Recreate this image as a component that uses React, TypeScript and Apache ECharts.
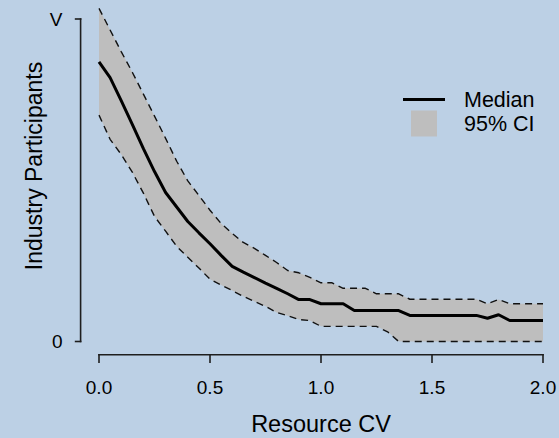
import React, { useEffect, useRef } from 'react';
import * as echarts from 'echarts';

const xValues = [
  0, 0.05, 0.1, 0.15, 0.2, 0.25, 0.3, 0.35, 0.4, 0.45, 0.5, 0.55, 0.6, 0.65, 0.7, 0.75, 0.8, 0.85, 0.9, 0.95,
  1.0, 1.05, 1.1, 1.15, 1.2, 1.25, 1.3, 1.35, 1.4, 1.45, 1.5, 1.55, 1.6, 1.65, 1.7, 1.75, 1.8, 1.85, 1.9, 1.95, 2.0,
];

// values expressed as a fraction of V
const medianValues = [
  0.867, 0.818, 0.747, 0.673, 0.598, 0.527, 0.462, 0.417, 0.372, 0.337, 0.303, 0.267, 0.233, 0.215, 0.198, 0.181,
  0.165, 0.148, 0.130, 0.130, 0.117, 0.117, 0.117, 0.096, 0.096, 0.096, 0.096, 0.096, 0.081, 0.081, 0.081, 0.081,
  0.081, 0.081, 0.081, 0.072, 0.083, 0.065, 0.065, 0.065, 0.065,
];

const lowerValues = [
  0.702, 0.627, 0.580, 0.525, 0.460, 0.388, 0.342, 0.295, 0.261, 0.228, 0.193, 0.175, 0.158, 0.140, 0.124, 0.109,
  0.090, 0.080, 0.068, 0.065, 0.047, 0.047, 0.047, 0.047, 0.047, 0.047, 0.030, 0, 0, 0, 0, 0,
  0, 0, 0, 0, 0, 0, 0, 0, 0,
];

const upperValues = [
  1.033, 0.966, 0.899, 0.835, 0.767, 0.699, 0.630, 0.559, 0.498, 0.453, 0.407, 0.366, 0.335, 0.307, 0.289, 0.267,
  0.245, 0.220, 0.213, 0.199, 0.182, 0.182, 0.165, 0.165, 0.165, 0.148, 0.148, 0.148, 0.131, 0.131, 0.131, 0.131,
  0.131, 0.131, 0.131, 0.117, 0.130, 0.117, 0.117, 0.117, 0.117,
];

const xTickValues = [0, 0.5, 1.0, 1.5, 2.0];
const yTickValues = [0, 1];
const yTickLabels: Record<string, string> = { '0': '0', '1': 'V' };

const FONT = '"Liberation Sans", Arial, Helvetica, sans-serif';
const BG = '#bcd0e5';
const BAND = '#bebebe';
const AXIS_COLOR = '#1e1e1e';
const AXIS_W = 1.6;

const hiddenAxis = (gridIndex: number, min: number, max: number) => ({
  type: 'value',
  gridIndex,
  min,
  max,
  show: false,
  axisLine: { show: false },
  axisTick: { show: false },
  axisLabel: { show: false },
  splitLine: { show: false },
});

export default function App() {
  const ref = useRef<HTMLDivElement>(null);

  useEffect(() => {
    if (!ref.current) return;
    const chart = echarts.init(ref.current, undefined, { renderer: 'svg' });

    const pairs = (vals: number[]) => xValues.map((x, i) => [x, vals[i]]);

    const option: any = {
      animation: false,
      backgroundColor: BG,
      textStyle: { fontFamily: FONT, color: '#000' },
      grid: [
        // data area
        { left: 99, right: 16, top: 19, bottom: 96.5, containLabel: false, outerBoundsMode: 'none' },
        // detached x axis labels (R style)
        { left: 99, right: 16, top: 19, bottom: 84, containLabel: false, outerBoundsMode: 'none' },
        // detached y axis labels (R style)
        { left: 80.5, right: 16, top: 19, bottom: 96.5, containLabel: false, outerBoundsMode: 'none' },
      ],
      xAxis: [
        hiddenAxis(0, 0, 2),
        {
          type: 'value',
          gridIndex: 1,
          min: 0,
          max: 2,
          interval: 0.5,
          axisLine: { show: false },
          axisTick: { show: false },
          splitLine: { show: false },
          axisLabel: {
            color: '#000',
            fontSize: 19,
            fontFamily: FONT,
            margin: 24,
            formatter: (v: number) => (xTickValues.includes(v) ? v.toFixed(1) : ''),
          },
          name: 'Resource CV',
          nameLocation: 'middle',
          nameGap: 58,
          nameTextStyle: { color: '#000', fontSize: 23.5, fontFamily: FONT },
        },
        hiddenAxis(2, 1, 2),
      ],
      yAxis: [
        hiddenAxis(0, 0, 1),
        hiddenAxis(1, 1, 2),
        {
          type: 'value',
          gridIndex: 2,
          min: 0,
          max: 1,
          interval: 1,
          axisLine: { show: false },
          axisTick: { show: false },
          splitLine: { show: false },
          axisLabel: {
            color: '#000',
            fontSize: 19,
            fontFamily: FONT,
            margin: 18,
            formatter: (v: number) => yTickLabels[String(v)] ?? '',
          },
        },
      ],
      legend: {
        show: true,
        orient: 'vertical',
        left: 403,
        top: 88.5,
        padding: 0,
        itemWidth: 42,
        itemHeight: 26,
        itemGap: 0,
        selectedMode: false,
        textStyle: { color: '#000', fontSize: 21.5, fontFamily: FONT, padding: [0, 0, 0, 14] },
        data: [
          { name: 'Median', icon: 'path://M0,0H42V3H0Z', itemStyle: { color: '#000', borderWidth: 0 } },
          { name: '95% CI', icon: 'path://M0,0H10V10H0Z', itemStyle: { color: BAND, borderWidth: 0 } },
        ],
      },
      graphic: [
        {
          type: 'text',
          x: 33.5,
          y: 166,
          rotation: Math.PI / 2,
          style: {
            text: 'Industry Participants',
            fontSize: 23,
            fontFamily: FONT,
            fill: '#000',
            align: 'center',
            verticalAlign: 'middle',
          },
        },
      ],
      series: [
        {
          // R-style detached axis lines and ticks, placed through the data scales
          name: 'axes',
          type: 'custom',
          xAxisIndex: 0,
          yAxisIndex: 0,
          data: [[0, 0]],
          encode: { x: 0, y: 1 },
          clip: false,
          silent: true,
          z: 4,
          renderItem: (_params: any, api: any) => {
            const o = api.coord([0, 0]);
            const e = api.coord([2, 0]);
            const t = api.coord([0, 1]);
            const axY = o[1] + 12.4;
            const axX = o[0] - 19.2;
            const fill = AXIS_COLOR;
            const children: any[] = [
              {
                type: 'rect',
                shape: { x: o[0] - AXIS_W / 2, y: axY, width: e[0] - o[0] + AXIS_W, height: AXIS_W },
                style: { fill },
              },
              {
                type: 'rect',
                shape: { x: axX, y: t[1] - AXIS_W / 2, width: AXIS_W, height: o[1] - t[1] + AXIS_W },
                style: { fill },
              },
            ];
            xTickValues.forEach((v) => {
              const p = api.coord([v, 0]);
              children.push({
                type: 'rect',
                shape: { x: p[0] - AXIS_W / 2, y: axY, width: AXIS_W, height: 9 },
                style: { fill },
              });
            });
            yTickValues.forEach((v) => {
              const p = api.coord([0, v]);
              children.push({
                type: 'rect',
                shape: { x: axX - 5, y: p[1] - AXIS_W / 2, width: 5 + AXIS_W, height: AXIS_W },
                style: { fill },
              });
            });
            return { type: 'group', children };
          },
        },
        {
          name: '95% CI',
          type: 'custom',
          xAxisIndex: 0,
          yAxisIndex: 0,
          data: [[0, 0]],
          encode: { x: 0, y: 1 },
          clip: false,
          silent: true,
          itemStyle: { color: BAND },
          z: 1,
          renderItem: (_params: any, api: any) => {
            const pts: number[][] = [];
            for (let i = 0; i < xValues.length; i++) pts.push(api.coord([xValues[i], upperValues[i]]));
            for (let i = xValues.length - 1; i >= 0; i--) pts.push(api.coord([xValues[i], lowerValues[i]]));
            return { type: 'polygon', shape: { points: pts }, style: { fill: BAND } };
          },
        },
        {
          name: 'Upper',
          type: 'line',
          xAxisIndex: 0,
          yAxisIndex: 0,
          data: pairs(upperValues),
          symbol: 'none',
          clip: false,
          silent: true,
          lineStyle: { color: '#111', width: 1.4, type: [7, 5] },
          z: 2,
        },
        {
          name: 'Lower',
          type: 'line',
          xAxisIndex: 0,
          yAxisIndex: 0,
          data: pairs(lowerValues),
          symbol: 'none',
          clip: false,
          silent: true,
          lineStyle: { color: '#111', width: 1.4, type: [7, 5] },
          z: 2,
        },
        {
          name: 'Median',
          type: 'line',
          xAxisIndex: 0,
          yAxisIndex: 0,
          data: pairs(medianValues),
          symbol: 'none',
          clip: false,
          silent: true,
          color: '#000',
          lineStyle: { color: '#000', width: 3 },
          z: 3,
        },
      ],
    };

    chart.setOption(option);
    return () => chart.dispose();
  }, []);

  return (
    <div
      ref={ref}
      style={{ position: 'fixed', left: 0, top: 0, width: 559, height: 438 }}
    />
  );
}
